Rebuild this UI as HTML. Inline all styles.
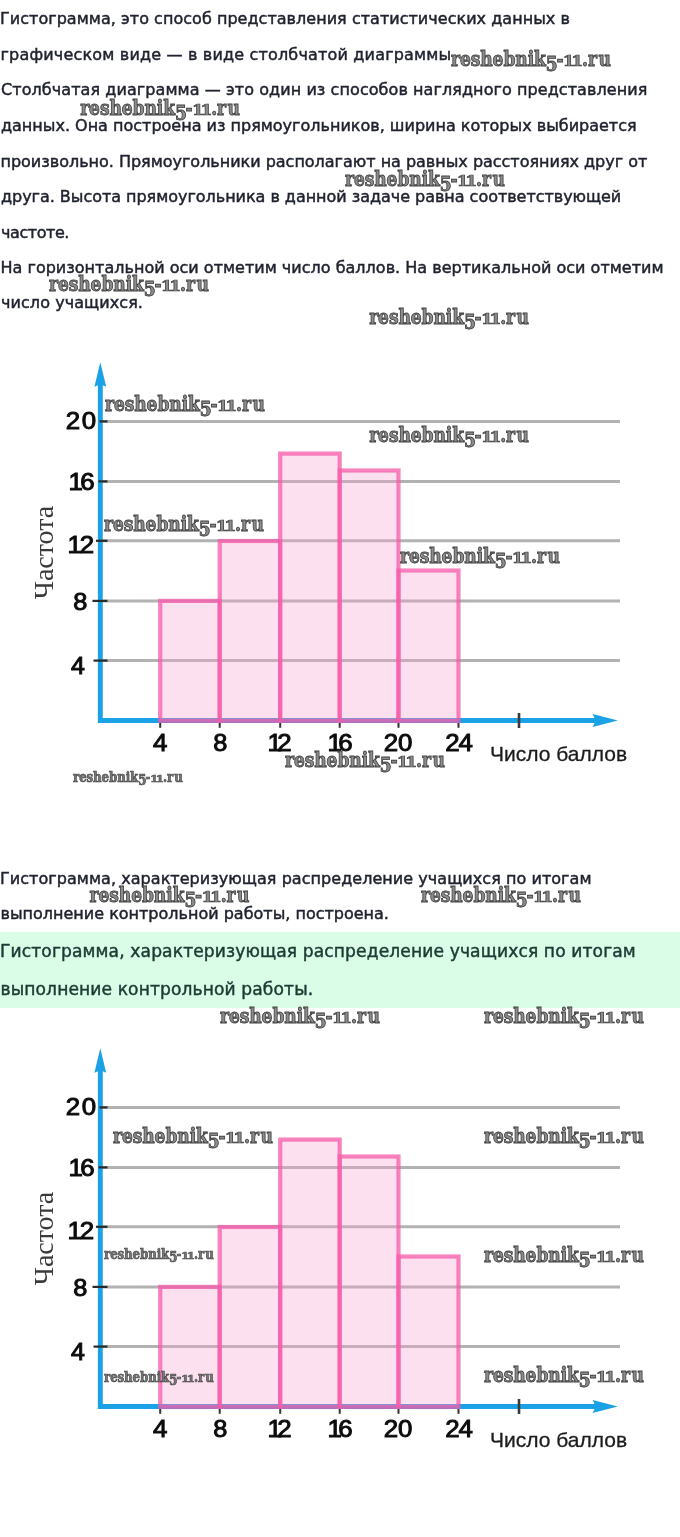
<!DOCTYPE html>
<html lang="ru"><head><meta charset="utf-8"><title>Гистограмма</title>
<style>
html,body{margin:0;padding:0;background:#fff}
body{width:680px;height:1537px;position:relative;overflow:hidden}
.l{position:absolute;white-space:nowrap;font-family:"DejaVu Sans","Liberation Sans",sans-serif;line-height:20px;height:20px;-webkit-text-stroke:0.45px currentColor}
.w{position:absolute;white-space:nowrap;font-family:"DejaVu Serif Condensed","DejaVu Serif",serif;font-stretch:condensed;font-weight:bold;color:#8c8c8c;line-height:24px;height:24px;font-size:19px;letter-spacing:-0.08px;-webkit-text-stroke:0.8px #404040;transform-origin:0 0;transform:scale(1,1.07)}
.s{color:#777;-webkit-text-stroke:0.9px #484848}
.w b{font-weight:bold;display:inline-block;position:relative;top:3.5px;letter-spacing:-1.3px}
.w i{font-style:normal;display:inline-block;transform:scaleY(0.72);transform-origin:0 18.6px;letter-spacing:-3.4px;margin:0 2.2px 0 -0.6px}
.w u{text-decoration:none;letter-spacing:1.5px}
.g{position:absolute;left:0;top:931.5px;width:680px;height:76px;background:#d9fde6}
svg{position:absolute;left:0;top:0;filter:blur(0.45px)}
</style></head><body>

<div class="g"></div>
<svg width="680" height="1537" viewBox="0 0 680 1537">
<line x1="100" y1="421.4" x2="620" y2="421.4" stroke="#b2b2b2" stroke-width="3"/>
<line x1="100" y1="481.4" x2="620" y2="481.4" stroke="#b2b2b2" stroke-width="3"/>
<line x1="100" y1="540.8" x2="620" y2="540.8" stroke="#b2b2b2" stroke-width="3"/>
<line x1="100" y1="600.9" x2="620" y2="600.9" stroke="#b2b2b2" stroke-width="3"/>
<line x1="100" y1="660.6" x2="620" y2="660.6" stroke="#b2b2b2" stroke-width="3"/>
<line x1="160.2" y1="720" x2="160.2" y2="727.8" stroke="#333" stroke-width="2"/>
<line x1="219.7" y1="720" x2="219.7" y2="727.8" stroke="#333" stroke-width="2"/>
<line x1="280.2" y1="720" x2="280.2" y2="727.8" stroke="#333" stroke-width="2"/>
<line x1="339.7" y1="720" x2="339.7" y2="727.8" stroke="#333" stroke-width="2"/>
<line x1="398.5" y1="720" x2="398.5" y2="727.8" stroke="#333" stroke-width="2"/>
<line x1="458.5" y1="720" x2="458.5" y2="727.8" stroke="#333" stroke-width="2"/>
<path d="M100.3 380 V720.5 H600" fill="none" stroke="#1ba2e6" stroke-width="4.9" stroke-linejoin="miter"/>
<path d="M100.3 362.2 L106.2 386.8 Q100.3 383 94.4 386.8 Z" fill="#1ba2e6"/>
<path d="M617.8 720.5 L592.6 714 Q597 720.5 592.6 727 Z" fill="#1ba2e6"/>
<line x1="99.5" y1="421.4" x2="107.5" y2="421.4" stroke="#2a2a2a" stroke-width="2.2"/>
<line x1="98.5" y1="481.4" x2="107.5" y2="481.4" stroke="#2a2a2a" stroke-width="2.2"/>
<line x1="96" y1="540.8" x2="107.5" y2="540.8" stroke="#2a2a2a" stroke-width="2.2"/>
<line x1="92.5" y1="600.9" x2="107.5" y2="600.9" stroke="#2a2a2a" stroke-width="2.2"/>
<line x1="93.5" y1="660.6" x2="107.5" y2="660.6" stroke="#2a2a2a" stroke-width="2.2"/>
<line x1="519" y1="713" x2="519" y2="728" stroke="#3a3a3a" stroke-width="2.6"/>
<rect x="160.2" y="600.9" width="59.5" height="119.9" fill="rgba(250,160,205,0.33)" stroke="rgba(245,90,170,0.75)" stroke-width="4.2"/>
<rect x="219.7" y="541" width="60.5" height="179.8" fill="rgba(250,160,205,0.33)" stroke="rgba(245,90,170,0.75)" stroke-width="4.2"/>
<rect x="280.2" y="453.6" width="59.5" height="267.2" fill="rgba(250,160,205,0.33)" stroke="rgba(245,90,170,0.75)" stroke-width="4.2"/>
<rect x="339.7" y="470.5" width="58.8" height="250.3" fill="rgba(250,160,205,0.33)" stroke="rgba(245,90,170,0.75)" stroke-width="4.2"/>
<rect x="398.5" y="570.5" width="60.0" height="150.3" fill="rgba(250,160,205,0.33)" stroke="rgba(245,90,170,0.75)" stroke-width="4.2"/>
<text transform="translate(65.75 428.6) scale(1.100 1)" font-family="Liberation Sans, sans-serif" font-size="23.5" letter-spacing="1.59" fill="#0c0c0c" stroke="#0c0c0c" stroke-width="0.95">20</text>
<text transform="translate(68.45 490) scale(1.100 1)" font-family="Liberation Sans, sans-serif" font-size="23.5" letter-spacing="-2.27" fill="#0c0c0c" stroke="#0c0c0c" stroke-width="0.95">16</text>
<text transform="translate(67.50 552.5) scale(1.100 1)" font-family="Liberation Sans, sans-serif" font-size="23.5" letter-spacing="-1.82" fill="#0c0c0c" stroke="#0c0c0c" stroke-width="0.95">12</text>
<text transform="translate(73.25 610) scale(1.079 1)" font-family="Liberation Sans, sans-serif" font-size="23.5" letter-spacing="0.00" fill="#0c0c0c" stroke="#0c0c0c" stroke-width="0.95">8</text>
<text transform="translate(70.95 674) scale(1.061 1)" font-family="Liberation Sans, sans-serif" font-size="23.5" letter-spacing="0.00" fill="#0c0c0c" stroke="#0c0c0c" stroke-width="0.95">4</text>
<text transform="translate(152.95 750.5) scale(1.100 1)" font-family="Liberation Sans, sans-serif" font-size="23.5" letter-spacing="0.00" fill="#0c0c0c" stroke="#0c0c0c" stroke-width="0.95">4</text>
<text transform="translate(213.25 750.5) scale(1.079 1)" font-family="Liberation Sans, sans-serif" font-size="23.5" letter-spacing="0.00" fill="#0c0c0c" stroke="#0c0c0c" stroke-width="0.95">8</text>
<text transform="translate(267.50 750.5) scale(1.100 1)" font-family="Liberation Sans, sans-serif" font-size="23.5" letter-spacing="-4.09" fill="#0c0c0c" stroke="#0c0c0c" stroke-width="0.95">12</text>
<text transform="translate(327.50 750.5) scale(1.100 1)" font-family="Liberation Sans, sans-serif" font-size="23.5" letter-spacing="-3.18" fill="#0c0c0c" stroke="#0c0c0c" stroke-width="0.95">16</text>
<text transform="translate(383.70 750.5) scale(1.100 1)" font-family="Liberation Sans, sans-serif" font-size="23.5" letter-spacing="0.00" fill="#0c0c0c" stroke="#0c0c0c" stroke-width="0.95">20</text>
<text transform="translate(445.20 750.5) scale(1.100 1)" font-family="Liberation Sans, sans-serif" font-size="23.5" letter-spacing="-0.91" fill="#0c0c0c" stroke="#0c0c0c" stroke-width="0.95">24</text>
<text x="490" y="761" font-family="Liberation Sans, sans-serif" font-size="21" fill="#1c1c1c" stroke="#1c1c1c" stroke-width="0.3">Число баллов</text>
<text transform="translate(53.2 599.3) rotate(-90)" font-family="Liberation Serif, serif" font-size="28" fill="#3a3a3a">Частота</text>
<line x1="100" y1="1107.4" x2="620" y2="1107.4" stroke="#b2b2b2" stroke-width="3"/>
<line x1="100" y1="1167.4" x2="620" y2="1167.4" stroke="#b2b2b2" stroke-width="3"/>
<line x1="100" y1="1226.8" x2="620" y2="1226.8" stroke="#b2b2b2" stroke-width="3"/>
<line x1="100" y1="1286.9" x2="620" y2="1286.9" stroke="#b2b2b2" stroke-width="3"/>
<line x1="100" y1="1346.6" x2="620" y2="1346.6" stroke="#b2b2b2" stroke-width="3"/>
<line x1="160.2" y1="1406" x2="160.2" y2="1413.8" stroke="#333" stroke-width="2"/>
<line x1="219.7" y1="1406" x2="219.7" y2="1413.8" stroke="#333" stroke-width="2"/>
<line x1="280.2" y1="1406" x2="280.2" y2="1413.8" stroke="#333" stroke-width="2"/>
<line x1="339.7" y1="1406" x2="339.7" y2="1413.8" stroke="#333" stroke-width="2"/>
<line x1="398.5" y1="1406" x2="398.5" y2="1413.8" stroke="#333" stroke-width="2"/>
<line x1="458.5" y1="1406" x2="458.5" y2="1413.8" stroke="#333" stroke-width="2"/>
<path d="M100.3 1066 V1406.5 H600" fill="none" stroke="#1ba2e6" stroke-width="4.9" stroke-linejoin="miter"/>
<path d="M100.3 1048.2 L106.2 1072.8 Q100.3 1069 94.4 1072.8 Z" fill="#1ba2e6"/>
<path d="M617.8 1406.5 L592.6 1400 Q597 1406.5 592.6 1413 Z" fill="#1ba2e6"/>
<line x1="99.5" y1="1107.4" x2="107.5" y2="1107.4" stroke="#2a2a2a" stroke-width="2.2"/>
<line x1="98.5" y1="1167.4" x2="107.5" y2="1167.4" stroke="#2a2a2a" stroke-width="2.2"/>
<line x1="96" y1="1226.8" x2="107.5" y2="1226.8" stroke="#2a2a2a" stroke-width="2.2"/>
<line x1="92.5" y1="1286.9" x2="107.5" y2="1286.9" stroke="#2a2a2a" stroke-width="2.2"/>
<line x1="93.5" y1="1346.6" x2="107.5" y2="1346.6" stroke="#2a2a2a" stroke-width="2.2"/>
<line x1="519" y1="1399" x2="519" y2="1414" stroke="#3a3a3a" stroke-width="2.6"/>
<rect x="160.2" y="1286.9" width="59.5" height="119.9" fill="rgba(250,160,205,0.33)" stroke="rgba(245,90,170,0.75)" stroke-width="4.2"/>
<rect x="219.7" y="1227" width="60.5" height="179.8" fill="rgba(250,160,205,0.33)" stroke="rgba(245,90,170,0.75)" stroke-width="4.2"/>
<rect x="280.2" y="1139.6" width="59.5" height="267.2" fill="rgba(250,160,205,0.33)" stroke="rgba(245,90,170,0.75)" stroke-width="4.2"/>
<rect x="339.7" y="1156.5" width="58.8" height="250.3" fill="rgba(250,160,205,0.33)" stroke="rgba(245,90,170,0.75)" stroke-width="4.2"/>
<rect x="398.5" y="1256.5" width="60.0" height="150.3" fill="rgba(250,160,205,0.33)" stroke="rgba(245,90,170,0.75)" stroke-width="4.2"/>
<text transform="translate(65.75 1114.6) scale(1.100 1)" font-family="Liberation Sans, sans-serif" font-size="23.5" letter-spacing="1.59" fill="#0c0c0c" stroke="#0c0c0c" stroke-width="0.95">20</text>
<text transform="translate(68.45 1176) scale(1.100 1)" font-family="Liberation Sans, sans-serif" font-size="23.5" letter-spacing="-2.27" fill="#0c0c0c" stroke="#0c0c0c" stroke-width="0.95">16</text>
<text transform="translate(67.50 1238.5) scale(1.100 1)" font-family="Liberation Sans, sans-serif" font-size="23.5" letter-spacing="-1.82" fill="#0c0c0c" stroke="#0c0c0c" stroke-width="0.95">12</text>
<text transform="translate(73.25 1296) scale(1.079 1)" font-family="Liberation Sans, sans-serif" font-size="23.5" letter-spacing="0.00" fill="#0c0c0c" stroke="#0c0c0c" stroke-width="0.95">8</text>
<text transform="translate(70.95 1360) scale(1.061 1)" font-family="Liberation Sans, sans-serif" font-size="23.5" letter-spacing="0.00" fill="#0c0c0c" stroke="#0c0c0c" stroke-width="0.95">4</text>
<text transform="translate(152.95 1436.5) scale(1.100 1)" font-family="Liberation Sans, sans-serif" font-size="23.5" letter-spacing="0.00" fill="#0c0c0c" stroke="#0c0c0c" stroke-width="0.95">4</text>
<text transform="translate(213.25 1436.5) scale(1.079 1)" font-family="Liberation Sans, sans-serif" font-size="23.5" letter-spacing="0.00" fill="#0c0c0c" stroke="#0c0c0c" stroke-width="0.95">8</text>
<text transform="translate(267.50 1436.5) scale(1.100 1)" font-family="Liberation Sans, sans-serif" font-size="23.5" letter-spacing="-4.09" fill="#0c0c0c" stroke="#0c0c0c" stroke-width="0.95">12</text>
<text transform="translate(327.50 1436.5) scale(1.100 1)" font-family="Liberation Sans, sans-serif" font-size="23.5" letter-spacing="-3.18" fill="#0c0c0c" stroke="#0c0c0c" stroke-width="0.95">16</text>
<text transform="translate(383.70 1436.5) scale(1.100 1)" font-family="Liberation Sans, sans-serif" font-size="23.5" letter-spacing="0.00" fill="#0c0c0c" stroke="#0c0c0c" stroke-width="0.95">20</text>
<text transform="translate(445.20 1436.5) scale(1.100 1)" font-family="Liberation Sans, sans-serif" font-size="23.5" letter-spacing="-0.91" fill="#0c0c0c" stroke="#0c0c0c" stroke-width="0.95">24</text>
<text x="490" y="1447" font-family="Liberation Sans, sans-serif" font-size="21" fill="#1c1c1c" stroke="#1c1c1c" stroke-width="0.3">Число баллов</text>
<text transform="translate(53.2 1285.3) rotate(-90)" font-family="Liberation Serif, serif" font-size="28" fill="#3a3a3a">Частота</text>
</svg>
<div class="l" style="left:0.00px;top:8.75px;font-size:16px;letter-spacing:0.033px;color:#20232f">Гистограмма, это способ представления статистических данных в</div>
<div class="l" style="left:0.50px;top:44.50px;font-size:16px;letter-spacing:0.178px;color:#20232f">графическом виде — в виде столбчатой диаграммы</div>
<div class="l" style="left:1.00px;top:80.00px;font-size:16px;letter-spacing:0.075px;color:#20232f">Столбчатая диаграмма — это один из способов наглядного представления</div>
<div class="l" style="left:1.00px;top:115.75px;font-size:16px;letter-spacing:0.000px;color:#20232f">данных. Она построена из прямоугольников, ширина которых выбирается</div>
<div class="l" style="left:0.50px;top:152.00px;font-size:16px;letter-spacing:-0.015px;color:#20232f">произвольно. Прямоугольники располагают на равных расстояниях друг от</div>
<div class="l" style="left:1.00px;top:187.00px;font-size:16px;letter-spacing:-0.031px;color:#20232f">друга. Высота прямоугольника в данной задаче равна соответствующей</div>
<div class="l" style="left:1.00px;top:223.25px;font-size:16px;letter-spacing:-0.429px;color:#20232f">частоте.</div>
<div class="l" style="left:0.50px;top:257.75px;font-size:16px;letter-spacing:0.014px;color:#20232f">На горизонтальной оси отметим число баллов. На вертикальной оси отметим</div>
<div class="l" style="left:1.00px;top:292.50px;font-size:16px;letter-spacing:0.071px;color:#20232f">число учащихся.</div>
<div class="l" style="left:0.00px;top:868.75px;font-size:16px;letter-spacing:0.050px;color:#20232f">Гистограмма, характеризующая распределение учащихся по итогам</div>
<div class="l" style="left:0.50px;top:904.00px;font-size:16px;letter-spacing:0.000px;color:#20232f">выполнение контрольной работы, построена.</div>
<div class="l" style="left:0.00px;top:941.43px;font-size:17.1px;letter-spacing:0.117px;color:#1d3a34">Гистограмма, характеризующая распределение учащихся по итогам</div>
<div class="l" style="left:0.50px;top:978.93px;font-size:17.1px;letter-spacing:0.103px;color:#1d3a34">выполнение контрольной работы.</div>
<div class="w" style="left:451.00px;top:46.30px">reshebnik<b>5</b>-<i>11</i>.<u>ru</u></div>
<div class="w" style="left:80.20px;top:94.70px">reshebnik<b>5</b>-<i>11</i>.<u>ru</u></div>
<div class="w" style="left:345.00px;top:165.50px">reshebnik<b>5</b>-<i>11</i>.<u>ru</u></div>
<div class="w" style="left:49.00px;top:270.50px">reshebnik<b>5</b>-<i>11</i>.<u>ru</u></div>
<div class="w" style="left:369.20px;top:303.70px">reshebnik<b>5</b>-<i>11</i>.<u>ru</u></div>
<div class="w" style="left:105.00px;top:390.50px">reshebnik<b>5</b>-<i>11</i>.<u>ru</u></div>
<div class="w" style="left:369.20px;top:422.30px">reshebnik<b>5</b>-<i>11</i>.<u>ru</u></div>
<div class="w" style="left:104.00px;top:510.50px">reshebnik<b>5</b>-<i>11</i>.<u>ru</u></div>
<div class="w" style="left:400.00px;top:542.50px">reshebnik<b>5</b>-<i>11</i>.<u>ru</u></div>
<div class="w" style="left:285.00px;top:746.50px">reshebnik<b>5</b>-<i>11</i>.<u>ru</u></div>
<div class="w s" style="left:73.20px;top:768.08px;transform:scale(0.6875,0.7356)">reshebnik<b>5</b>-<i>11</i>.<u>ru</u></div>
<div class="w" style="left:89.60px;top:881.50px">reshebnik<b>5</b>-<i>11</i>.<u>ru</u></div>
<div class="w" style="left:421.00px;top:881.50px">reshebnik<b>5</b>-<i>11</i>.<u>ru</u></div>
<div class="w" style="left:220.00px;top:1003.30px">reshebnik<b>5</b>-<i>11</i>.<u>ru</u></div>
<div class="w" style="left:484.00px;top:1002.90px">reshebnik<b>5</b>-<i>11</i>.<u>ru</u></div>
<div class="w" style="left:113.00px;top:1122.50px">reshebnik<b>5</b>-<i>11</i>.<u>ru</u></div>
<div class="w" style="left:484.00px;top:1122.50px">reshebnik<b>5</b>-<i>11</i>.<u>ru</u></div>
<div class="w s" style="left:104.00px;top:1245.08px;transform:scale(0.6875,0.7356)">reshebnik<b>5</b>-<i>11</i>.<u>ru</u></div>
<div class="w" style="left:484.00px;top:1242.10px">reshebnik<b>5</b>-<i>11</i>.<u>ru</u></div>
<div class="w s" style="left:104.00px;top:1368.28px;transform:scale(0.6875,0.7356)">reshebnik<b>5</b>-<i>11</i>.<u>ru</u></div>
<div class="w" style="left:484.00px;top:1362.10px">reshebnik<b>5</b>-<i>11</i>.<u>ru</u></div>
</body></html>
